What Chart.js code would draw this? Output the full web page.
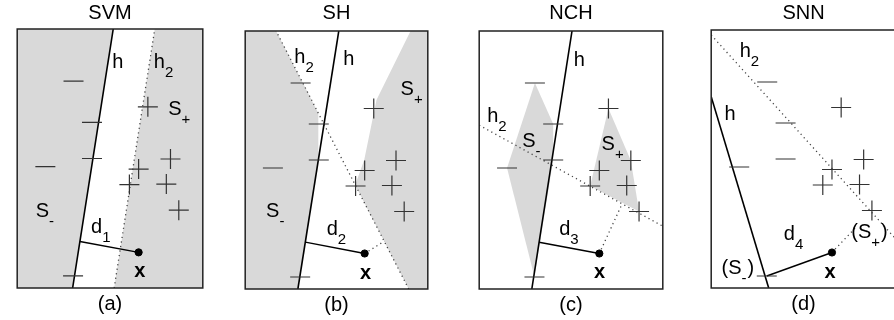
<!DOCTYPE html>
<html>
<head>
<meta charset="utf-8">
<script src="https://cdn.jsdelivr.net/npm/chart.js@4.4.0/dist/chart.umd.min.js"></script>
<style>
  html, body { margin: 0; padding: 0; background: #fff; overflow: hidden; }
  #wrap { position: relative; width: 894px; height: 320px; overflow: hidden; }
  canvas { position: absolute; top: 0; }
</style>
</head>
<body>
<div id="wrap">
  <canvas id="svm"></canvas>
  <canvas id="sh"></canvas>
  <canvas id="nch"></canvas>
  <canvas id="snn"></canvas>
</div>
<script>
// training points (data units, y up) - the same set in every panel
const negX = [61, 81, 81, 30.5, 60.5];
const negY = [206, 165, 129, 121, 12];
const posX = [141.5, 166, 131.5, 121.5, 161.5, 175];
const posY = [180.5, 128.5, 118.5, 103, 103.5, 77.5];
const query = [131.5, 35.5];

// decision line h and second boundary h2 for each method (end points)
const hSVM = [[60, 0], [104, 258]];
const h2SVM = [[105, 0], [149, 258]];
const hSH = [[58, 0], [103, 258]];
const h2SH = [[180, 0], [34, 258]];
const hNCH = [[57.6, 0], [101.6, 258]];
const h2NCH = [[0, 163.8], [201, 62.8]];
const hSNN = [[0, 191.3], [62.6, 0]];
const h2SNN = [[0, 253], [201, 49]];

// gray half-spaces of the SH panel
const shNeg = [[0, 0], [58, 0], [80.5, 129], [80.5, 176], [34, 258], [0, 258]];
const shPos = [[180, 0], [201, 0], [201, 258], [182, 258], [144.5, 189], [131, 129], [121, 104]];

const X_MAX = 201, Y_MAX = 258;
const GRAY = '#d9d9d9';
const FONT = '"Liberation Sans", Arial, sans-serif';

Chart.defaults.font.family = FONT;
Chart.defaults.color = '#000';

const pt = p => ({ x: p[0], y: p[1] });

function foot(l, p) {
  const [a, b] = l;
  const dx = b[0] - a[0], dy = b[1] - a[1];
  const t = ((p[0] - a[0]) * dx + (p[1] - a[1]) * dy) / (dx * dx + dy * dy);
  return [a[0] + t * dx, a[1] + t * dy];
}

function nearest(xs, ys, p) {
  let best = 0, bd = Infinity;
  xs.forEach((x, i) => {
    const d = Math.hypot(x - p[0], ys[i] - p[1]);
    if (d < bd) { bd = d; best = i; }
  });
  return [xs[best], ys[best]];
}

// monotone chain convex hull
function hull(xs, ys) {
  const p = xs.map((x, i) => [x, ys[i]]).sort((a, b) => a[0] - b[0] || a[1] - b[1]);
  const cross = (o, a, b) => (a[0] - o[0]) * (b[1] - o[1]) - (a[1] - o[1]) * (b[0] - o[0]);
  const lo = [], up = [];
  p.forEach(q => {
    while (lo.length >= 2 && cross(lo[lo.length - 2], lo[lo.length - 1], q) <= 0) lo.pop();
    lo.push(q);
  });
  p.slice().reverse().forEach(q => {
    while (up.length >= 2 && cross(up[up.length - 2], up[up.length - 1], q) <= 0) up.pop();
    up.push(q);
  });
  return lo.slice(0, -1).concat(up.slice(0, -1));
}

function region(poly) {
  return { data: poly.map(pt), showLine: true, fill: 'shape', backgroundColor: GRAY,
    borderWidth: 0, pointRadius: 0, tension: 0, order: 3 };
}
function solid(a, b, w) {
  return { data: [pt(a), pt(b)], showLine: true, borderColor: '#000', borderWidth: w,
    pointRadius: 0, fill: false, order: 1 };
}
function dotted(a, b) {
  return { data: [pt(a), pt(b)], showLine: true, borderColor: '#444', borderWidth: 1.3,
    borderDash: [1.2, 3.4], pointRadius: 0, fill: false, order: 2 };
}
function marks() {
  return [
    { data: negX.map((x, i) => ({ x, y: negY[i] })), showLine: false, pointStyle: 'line',
      pointRadius: 10, pointBorderColor: '#333', pointBorderWidth: 1.2, order: 0 },
    { data: posX.map((x, i) => ({ x, y: posY[i] })), showLine: false, pointStyle: 'cross',
      pointRadius: 10, pointBorderColor: '#333', pointBorderWidth: 1.2, order: 0 },
    { data: [pt(query)], showLine: false, pointStyle: 'circle', pointRadius: 3.6,
      pointBackgroundColor: '#000', pointBorderColor: '#000', pointBorderWidth: 1, order: 0 }
  ];
}

function tagsPlugin(items) {
  return {
    id: 'tags',
    afterDatasetsDraw(chart) {
      const { ctx, scales: { x, y } } = chart;
      ctx.save();
      ctx.fillStyle = '#000';
      ctx.textAlign = 'left';
      ctx.textBaseline = 'alphabetic';
      items.forEach(t => {
        let px = x.getPixelForValue(t.at[0]);
        const py = y.getPixelForValue(t.at[1]);
        t.parts.forEach(([s, kind]) => {
          ctx.font = kind === 'sub' ? '15px ' + FONT : (kind === 'bold' ? 'bold 20px ' : '20px ') + FONT;
          ctx.fillText(s, px, py + (kind === 'sub' ? 9 : 0));
          px += ctx.measureText(s).width + (kind === 'sub' ? 1 : 0);
        });
      });
      ctx.restore();
    }
  };
}

const frame = {
  id: 'frame',
  afterDraw(chart) {
    const { ctx, chartArea: a } = chart;
    ctx.save();
    ctx.strokeStyle = '#222';
    ctx.lineWidth = 1.5;
    ctx.strokeRect(a.left, a.top, a.right - a.left, a.bottom - a.top);
    ctx.restore();
  }
};

function panel(id, name, cap, box, datasets, tags) {
  const cv = document.getElementById(id);
  cv.width = box[2] - box[0] + 4;
  cv.height = 320;
  cv.style.left = (box[0] - 2) + 'px';
  new Chart(cv, {
    type: 'scatter',
    data: { datasets },
    options: {
      responsive: false,
      animation: false,
      events: [],
      layout: { padding: { left: 2, right: 2, top: 0, bottom: 0 } },
      scales: {
        x: { type: 'linear', min: 0, max: X_MAX, display: false },
        y: { type: 'linear', min: 0, max: Y_MAX, display: false }
      },
      plugins: {
        legend: { display: false },
        tooltip: { enabled: false },
        title: { display: true, text: name, color: '#000', font: { size: 20, weight: 'normal' },
          padding: { top: 1, bottom: box[1] - 25 } },
        subtitle: { display: true, position: 'bottom', text: cap, color: '#000',
          font: { size: 20, weight: 'normal' },
          padding: { top: 4.5, bottom: 320 - box[3] - 28.5 } }
      }
    },
    plugins: [tagsPlugin(tags), frame]
  });
}

// (a) SVM
panel('svm', 'SVM', '(a)', [8, 29, 212, 288], [
  ...marks(),
  solid(hSVM[0], hSVM[1], 1.6),
  solid(foot(hSVM, query), query, 1.4),
  dotted(h2SVM[0], h2SVM[1]),
  region([[0, 0], hSVM[0], hSVM[1], [0, Y_MAX]]),
  region([h2SVM[0], [X_MAX, 0], [X_MAX, Y_MAX], h2SVM[1]])
], [
  { at: [103, 219], parts: [['h']] },
  { at: [148, 219], parts: [['h'], ['2', 'sub']] },
  { at: [163.5, 172], parts: [['S'], ['+', 'sub']] },
  { at: [20, 70.5], parts: [['S'], ['-', 'sub']] },
  { at: [80, 54.5], parts: [['d'], ['1', 'sub']] },
  { at: [126.8, 10.7], parts: [['x', 'bold']] }
]);

// (b) SH
panel('sh', 'SH', '(b)', [236, 31, 437, 289], [
  ...marks(),
  solid(hSH[0], hSH[1], 1.6),
  solid(foot(hSH, query), query, 1.4),
  dotted(h2SH[0], h2SH[1]),
  dotted(query, foot(h2SH, query)),
  region(shNeg),
  region(shPos)
], [
  { at: [54, 226], parts: [['h'], ['2', 'sub']] },
  { at: [108, 224], parts: [['h']] },
  { at: [171, 194], parts: [['S'], ['+', 'sub']] },
  { at: [23, 72], parts: [['S'], ['-', 'sub']] },
  { at: [89.7, 54], parts: [['d'], ['2', 'sub']] },
  { at: [126.3, 9.7], parts: [['x', 'bold']] }
]);

// (c) NCH
panel('nch', 'NCH', '(c)', [470, 31, 672, 289], [
  ...marks(),
  solid(hNCH[0], hNCH[1], 1.6),
  solid(foot(hNCH, query), query, 1.4),
  dotted(h2NCH[0], h2NCH[1]),
  dotted(query, foot(h2NCH, query)),
  region(hull(negX, negY)),
  region(hull(posX, posY))
], [
  { at: [103.5, 223], parts: [['h']] },
  { at: [8.7, 167], parts: [['h'], ['2', 'sub']] },
  { at: [47, 142], parts: [['S'], ['-', 'sub']] },
  { at: [134, 139], parts: [['S'], ['+', 'sub']] },
  { at: [87.6, 54], parts: [['d'], ['3', 'sub']] },
  { at: [125.7, 10.7], parts: [['x', 'bold']] }
]);

// (d) SNN
const nearNeg = nearest(negX, negY, query);
const nearPos = nearest(posX, posY, query);
panel('snn', 'SNN', '(d)', [702, 30, 905, 288], [
  ...marks(),
  solid(hSNN[0], hSNN[1], 1.6),
  solid(query, nearNeg, 1.4),
  dotted(h2SNN[0], h2SNN[1]),
  dotted(query, [query[0] + 0.6 * (nearPos[0] - query[0]), query[1] + 0.6 * (nearPos[1] - query[1])])
], [
  { at: [31, 230.7], parts: [['h'], ['2', 'sub']] },
  { at: [14.5, 168], parts: [['h']] },
  { at: [79, 48], parts: [['d'], ['4', 'sub']] },
  { at: [123.5, 9.7], parts: [['x', 'bold']] },
  { at: [11.2, 14], parts: [['(S'], ['-', 'sub'], [')']] },
  { at: [152.6, 50.5], parts: [['(S'], ['+', 'sub'], [')']] }
]);
</script>
</body>
</html>
